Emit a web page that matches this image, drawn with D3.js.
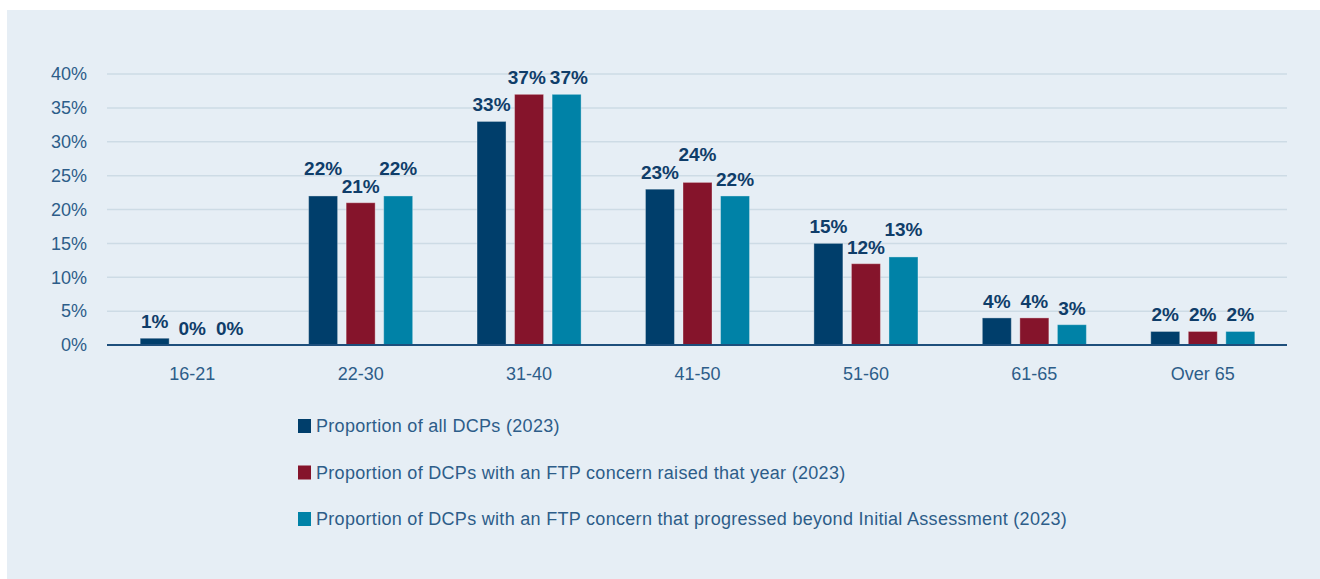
<!DOCTYPE html>
<html>
<head>
<meta charset="utf-8">
<script src="https://cdn.jsdelivr.net/npm/d3@7"></script>
<style>
  html, body { margin: 0; padding: 0; background: #ffffff; }
  svg { display: block; font-family: "Liberation Sans", Arial, Helvetica, sans-serif; }
</style>
</head>
<body>
<svg id="chart" width="1320" height="579"></svg>
<script>
const categories = ["16-21", "22-30", "31-40", "41-50", "51-60", "61-65", "Over 65"];
const seriesNames = [
  "Proportion of all DCPs (2023)",
  "Proportion of DCPs with an FTP concern raised that year (2023)",
  "Proportion of DCPs with an FTP concern that progressed beyond Initial Assessment (2023)"
];
const allDCPs       = [1, 22, 33, 23, 15, 4, 2];
const concernRaised = [0, 21, 37, 24, 12, 4, 2];
const progressed    = [0, 22, 37, 22, 13, 3, 2];
const seriesValues = [allDCPs, concernRaised, progressed];
const yTicks = [0, 5, 10, 15, 20, 25, 30, 35, 40];
const colors = ["#003e6b", "#85142b", "#0082a7"];

const svg = d3.select("#chart");
const W = 1320, H = 579;

// panel background
svg.append("rect").attr("x", 7).attr("y", 10).attr("width", W - 7).attr("height", H - 10)
  .attr("fill", "#e6eef5");

const plotLeft = 108, plotRight = 1287, plotTop = 74, plotBottom = 345;

const y = d3.scaleLinear().domain([0, 40]).range([plotBottom, plotTop]);
const x0 = d3.scaleBand().domain(categories).range([plotLeft, plotRight]).padding(0);
const groupW = x0.bandwidth() * 0.618;
const x1 = d3.scaleBand().domain(d3.range(seriesNames.length))
  .range([(x0.bandwidth() - groupW) / 2, (x0.bandwidth() + groupW) / 2])
  .paddingInner(0.227).paddingOuter(0);

// gridlines
svg.append("g").selectAll("line").data(yTicks.filter(t => t > 0)).join("line")
  .attr("x1", plotLeft - 1).attr("x2", plotRight)
  .attr("y1", d => y(d)).attr("y2", d => y(d))
  .attr("stroke", "#cddbe5").attr("stroke-width", 1.5);

// y axis labels via d3 axis
const yAxis = svg.append("g").attr("transform", `translate(${plotLeft - 21},0)`)
  .call(d3.axisLeft(y).tickValues(yTicks).tickFormat(d => d + "%").tickSize(0).tickPadding(0));
yAxis.select(".domain").remove();
yAxis.selectAll("text").attr("font-size", 18).attr("fill", "#2d5d89")
  .attr("font-family", "Liberation Sans, Arial, sans-serif");

// bars
const data = [];
categories.forEach((c, ci) => {
  seriesValues.forEach((vals, si) => {
    data.push({ cat: c, si: si, v: vals[ci] });
  });
});

svg.append("g").selectAll("rect").data(data).join("rect")
  .attr("x", d => x0(d.cat) + x1(d.si))
  .attr("y", d => y(d.v))
  .attr("width", x1.bandwidth())
  .attr("height", d => y(0) - y(d.v))
  .attr("fill", d => colors[d.si])
  .attr("stroke", "rgba(255,255,255,0.35)").attr("stroke-width", 1);

// x axis baseline
svg.append("line").attr("x1", plotLeft - 1).attr("x2", plotRight)
  .attr("y1", y(0)).attr("y2", y(0))
  .attr("stroke", "#1e4f7c").attr("stroke-width", 2);

// x axis labels
const xAxis = svg.append("g").attr("transform", `translate(0,${y(0)})`)
  .call(d3.axisBottom(x0).tickSize(0).tickPadding(22));
xAxis.select(".domain").remove();
xAxis.selectAll("text").attr("font-size", 18).attr("fill", "#2d5d89")
  .attr("font-family", "Liberation Sans, Arial, sans-serif");

// data labels with simple collision avoidance
const labelG = svg.append("g");
const labels = labelG.selectAll("text").data(data).join("text")
  .attr("text-anchor", "middle")
  .attr("font-size", 19).attr("font-weight", "bold")
  .attr("fill", "#0f3d69")
  .text(d => d.v + "%");
labels.each(function(d) {
  d.w = this.getComputedTextLength();
  d.cx = x0(d.cat) + x1(d.si) + x1.bandwidth() / 2;
  d.by = y(d.v) - 10;
});
const step = x1.step();
categories.forEach(c => {
  const g = data.filter(d => d.cat === c);
  for (let i = 1; i < g.length; i++) {
    const a = g[i - 1], b = g[i];
    const hOverlap = (a.w / 2 + b.w / 2) > step - 1;
    if (hOverlap && a.v !== b.v && Math.abs(a.by - b.by) < 14) {
      if (a.v > b.v) a.by = b.by - 18; else b.by = a.by - 18;
    }
  }
  for (let i = 1; i < g.length; i++) {
    const a = g[i - 1], b = g[i];
    if (Math.abs(a.by - b.by) < 14) {
      const excess = (a.cx + a.w / 2 + 4) - (b.cx - b.w / 2);
      if (excess > 0) { a.cx -= excess / 2; b.cx += excess / 2; }
    }
  }
});
labels.attr("x", d => d.cx).attr("y", d => d.by);

// legend
const legend = svg.append("g").selectAll("g").data(seriesNames).join("g")
  .attr("transform", (d, i) => `translate(298, ${426 + i * 46.5})`);
legend.append("rect").attr("x", 0).attr("y", -7).attr("width", 13).attr("height", 14)
  .attr("fill", (d, i) => colors[i]);
legend.append("text").attr("x", 18).attr("y", 6)
  .attr("font-size", 18).attr("letter-spacing", 0.3).attr("fill", "#2d5d89")
  .text(d => d);
</script>
</body>
</html>
